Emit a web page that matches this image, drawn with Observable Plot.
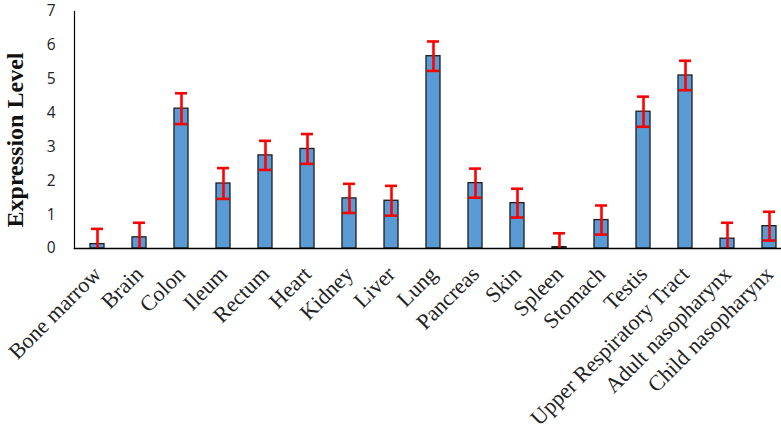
<!DOCTYPE html>
<html>
<head>
<meta charset="utf-8">
<script src="https://cdn.jsdelivr.net/npm/d3@7"></script>
<script src="https://cdn.jsdelivr.net/npm/@observablehq/plot@0.6"></script>
<style>
  html, body { margin: 0; padding: 0; background: #fff; overflow: hidden; }
  svg { overflow: hidden; }
</style>
</head>
<body>
<div id="chart"></div>
<script>
const categories = ["Bone marrow", "Brain", "Colon", "Ileum", "Rectum", "Heart", "Kidney", "Liver", "Lung", "Pancreas", "Skin", "Spleen", "Stomach", "Testis", "Upper Respiratory Tract", "Adult nasopharynx", "Child nasopharynx"];
const values = [0.13, 0.33, 4.13, 1.92, 2.75, 2.94, 1.48, 1.41, 5.68, 1.93, 1.34, 0.04, 0.84, 4.04, 5.11, 0.29, 0.66];
const errors = [0.45, 0.43, 0.455, 0.455, 0.43, 0.44, 0.43, 0.44, 0.435, 0.43, 0.425, 0.41, 0.43, 0.445, 0.435, 0.47, 0.425];
const yTicks = [0, 1, 2, 3, 4, 5, 6, 7];

const data = categories.map((c, i) => ({cat: c, v: values[i], lo: values[i] - errors[i], hi: values[i] + errors[i]}));
const lowCaps = data.filter(d => d.lo >= 0);

const chart = Plot.plot({
  width: 781,
  height: 433,
  marginTop: 11,
  marginBottom: 185,
  marginLeft: 74,
  marginRight: 0,
  x: {domain: categories, range: [74.4, 792], paddingInner: 0.67, paddingOuter: 0.335, align: 0.5},
  y: {domain: [0, 7], clamp: true},
  marks: [
    Plot.barY(data, {x: "cat", y: "v", fill: "#5B9BD5", stroke: "#1e1e1e", strokeWidth: 1.3}),
    Plot.ruleX(data, {x: "cat", y1: "lo", y2: "hi", stroke: "#ff0000", strokeWidth: 2.6}),
    Plot.tickY(data, {x: "cat", y: "hi", stroke: "#ff0000", strokeWidth: 2.6, insetLeft: 1, insetRight: 1}),
    Plot.tickY(lowCaps, {x: "cat", y: "lo", stroke: "#ff0000", strokeWidth: 2.6, insetLeft: 1, insetRight: 1}),
    Plot.frame({anchor: "left", stroke: "#000", strokeWidth: 1.2}),
    Plot.frame({anchor: "bottom", stroke: "#000", strokeWidth: 1.5}),
    Plot.axisY({ticks: yTicks, tickFormat: d => String(d), tickSize: 0, tickPadding: 19, fontSize: 15.5, fontFamily: "Open Sans", label: null, color: "#222"}),
    Plot.axisX({tickSize: 0, tickRotate: -45, tickPadding: 22, fontSize: 22, fontFamily: "Liberation Serif", label: null, color: "#222"}),
    Plot.text(["Expression Level"], {frameAnchor: "left", rotate: -90, textAnchor: "middle", dx: -59, dy: 10, fontSize: 24, fontWeight: "bold", fontFamily: "Liberation Serif", fill: "#111"})
  ]
});
document.getElementById("chart").appendChild(chart);
</script>
</body>
</html>
